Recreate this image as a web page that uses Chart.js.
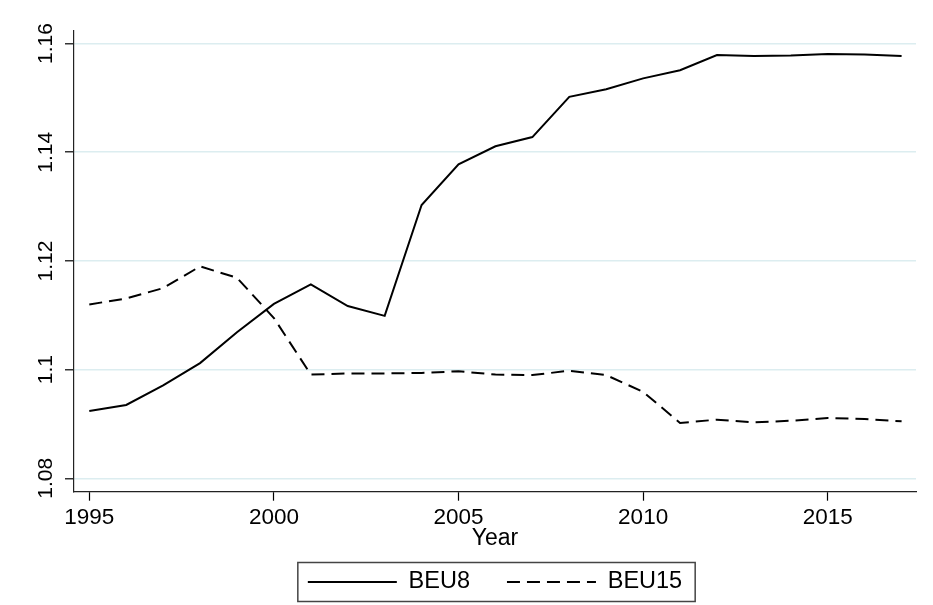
<!DOCTYPE html>
<html>
<head>
<meta charset="utf-8">
<script src="https://cdn.jsdelivr.net/npm/chart.js@4.4.1/dist/chart.umd.min.js"></script>
<style>
  html, body { margin: 0; padding: 0; background: #ffffff; }
  #wrap { position: relative; width: 933px; height: 605px; }
</style>
</head>
<body>
<div id="wrap"><canvas id="c" width="933" height="605"></canvas></div>
<script>
// ---- data ----
const years = [1995,1996,1997,1998,1999,2000,2001,2002,2003,2004,2005,2006,2007,2008,2009,2010,2011,2012,2013,2014,2015,2016,2017];
const beu8  = [1.0924,1.0935,1.0971,1.1012,1.1069,1.1121,1.1157,1.1117,1.1099,1.1303,1.1378,1.1411,1.1428,1.1502,1.1516,1.1536,1.1551,1.1579,1.1577,1.1578,1.1581,1.1580,1.1577];
const beu15 = [1.1120,1.1131,1.1150,1.1190,1.1169,1.1095,1.0991,1.0993,1.0993,1.0994,1.0997,1.0991,1.0990,1.0998,1.0990,1.0959,1.0902,1.0908,1.0903,1.0906,1.0911,1.0909,1.0905];
const seriesNames = ['BEU8', 'BEU15'];
const xTickValues = [1995, 2000, 2005, 2010, 2015];
const yTickValues = [1.08, 1.10, 1.12, 1.14, 1.16];
const xAxisTitle = 'Year';

const FONT = '"Liberation Sans", Arial, Helvetica, sans-serif';

const toPoints = vals => years.map((y, i) => ({ x: y, y: vals[i] }));

const legendBox = {
  id: 'legendBox',
  afterDraw(chart) {
    const lg = chart.legend;
    if (!lg || !lg.legendHitBoxes || !lg.legendHitBoxes.length) return;
    const hb = lg.legendHitBoxes;
    const first = hb[0], last = hb[hb.length - 1];
    const left = first.left - 10;
    const right = last.left + last.width + 13;
    const cy = first.top + first.height / 2;
    const ctx = chart.ctx;
    ctx.save();
    ctx.strokeStyle = '#444';
    ctx.lineWidth = 1.5;
    ctx.strokeRect(left, cy - 19.5, right - left, 39);
    ctx.restore();
  }
};

new Chart(document.getElementById('c'), {
  type: 'line',
  data: {
    datasets: [
      {
        label: seriesNames[0],
        data: toPoints(beu8),
        borderColor: '#000',
        backgroundColor: 'rgba(0,0,0,0)',
        borderWidth: 2,
        pointRadius: 0,
        tension: 0,
        fill: false
      },
      {
        label: seriesNames[1],
        data: toPoints(beu15),
        borderColor: '#000',
        backgroundColor: 'rgba(0,0,0,0)',
        borderWidth: 2,
        borderDash: [13, 7],
        pointRadius: 0,
        tension: 0,
        fill: false
      }
    ]
  },
  options: {
    responsive: false,
    animation: false,
    devicePixelRatio: 1,
    layout: { padding: { left: 0, right: 17, top: 31, bottom: 1.25 } },
    plugins: {
      tooltip: { enabled: false },
      legend: {
        position: 'bottom',
        align: 'center',
        fullSize: false,
        labels: {
          usePointStyle: true,
          pointStyle: 'line',
          pointStyleWidth: 89,
          boxHeight: 23.5,
          padding: 37,
          color: '#000',
          font: { family: FONT, size: 23.5 },
          generateLabels: chart => {
            const items = Chart.defaults.plugins.legend.labels.generateLabels(chart);
            items.forEach(it => {
              const ds = chart.data.datasets[it.datasetIndex];
              it.lineDash = ds.borderDash || [];
              it.lineWidth = 1.8;
              it.strokeStyle = ds.borderColor;
              it.fillStyle = 'rgba(0,0,0,0)';
            });
            return items;
          }
        }
      }
    },
    scales: {
      x: {
        type: 'linear',
        min: 1994.586,
        max: 2017.39,
        afterBuildTicks: s => { s.ticks = xTickValues.map(v => ({ value: v })); },
        afterFit: s => { s.height = 41.55; },
        ticks: {
          color: '#000',
          padding: 4,
          maxRotation: 0,
          font: { family: FONT, size: 22.5 },
          callback: v => String(v)
        },
        grid: {
          drawOnChartArea: false,
          drawTicks: true,
          tickLength: 9,
          tickColor: '#000',
          tickWidth: 1.2
        },
        border: { display: true, color: '#222', width: 1.2 },
        title: {
          display: true,
          text: xAxisTitle,
          color: '#000',
          font: { family: FONT, size: 23 },
          padding: { top: 0, bottom: -19 }
        }
      },
      y: {
        type: 'linear',
        min: 1.07754,
        max: 1.16232,
        afterBuildTicks: s => { s.ticks = yTickValues.map(v => ({ value: v })); },
        afterFit: s => { s.width = 74; },
        ticks: {
          color: '#000',
          padding: -1.9,
          minRotation: 90,
          maxRotation: 90,
          crossAlign: 'center',
          font: { family: FONT, size: 21 },
          callback: v => String(Number(v.toFixed(2)))
        },
        grid: {
          color: '#dcedf0',
          lineWidth: 1.6,
          drawTicks: true,
          tickLength: 9,
          tickColor: '#000',
          tickWidth: 1.2
        },
        border: { display: true, color: '#222', width: 1.2 }
      }
    }
  },
  plugins: [legendBox]
});
</script>
</body>
</html>
